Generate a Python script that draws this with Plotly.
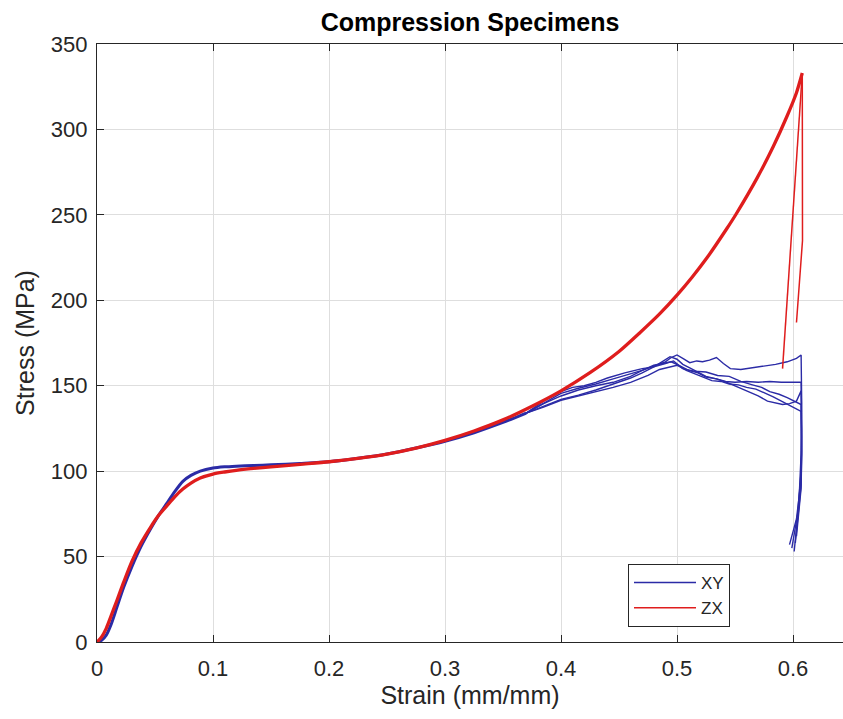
import plotly.graph_objects as go

# ---------------- data ----------------
# XY specimens: shared loading part
XY_LOAD_STRAIN = [0, 0.004, 0.008, 0.012, 0.017, 0.023, 0.03, 0.038, 0.046, 0.053, 0.06,
                  0.067, 0.074, 0.081, 0.089, 0.1, 0.11, 0.12, 0.135, 0.15, 0.175, 0.2,
                  0.225, 0.25, 0.275, 0.3, 0.325, 0.35, 0.37]
XY_LOAD_STRESS = [0, 1, 4, 10, 20, 32, 44, 56, 66, 74, 81,
                  88, 94, 97.5, 100, 101.8, 102.5, 102.9, 103.3, 103.7, 104.5, 105.5,
                  107.5, 110, 113.5, 117.5, 122.5, 128.5, 134]

# XY specimens: individual tails after the plateau
XY1_STRAIN = [0.37, 0.385, 0.40, 0.415, 0.43, 0.445, 0.46, 0.47, 0.48, 0.49, 0.495, 0.5, 0.505,
              0.511, 0.517, 0.522, 0.528, 0.534, 0.54, 0.546, 0.555, 0.565, 0.575, 0.585, 0.595,
              0.603, 0.607, 0.6075, 0.607, 0.605, 0.601]
XY1_STRESS = [134, 140, 145.5, 148.5, 151, 154, 157, 159, 161.5, 164, 166.5, 168, 166,
              163.5, 164.5, 164, 165, 166.5, 163, 160, 159.5, 160.5, 161.5, 162.5, 164,
              166, 168, 140, 110, 80, 53]

XY2_STRAIN = [0.37, 0.385, 0.40, 0.415, 0.43, 0.445, 0.46, 0.47, 0.48, 0.487, 0.494, 0.5, 0.505,
              0.511, 0.517, 0.525, 0.534, 0.542, 0.55, 0.56, 0.57, 0.58, 0.59, 0.6, 0.607,
              0.6075, 0.607, 0.604, 0.599]
XY2_STRESS = [134, 138, 142, 144.5, 147.5, 151, 154.5, 157.5, 161, 164, 167, 165.5, 162.5,
              160.5, 158.5, 155.5, 154, 152.5, 152, 152.5, 152, 152.5, 152, 152, 152,
              125, 100, 75, 55]

XY3_STRAIN = [0.37, 0.385, 0.40, 0.415, 0.43, 0.445, 0.46, 0.47, 0.48, 0.488, 0.495, 0.503,
              0.51, 0.518, 0.525, 0.534, 0.543, 0.553, 0.563, 0.57, 0.578, 0.585, 0.591, 0.597,
              0.603, 0.607, 0.6075, 0.607, 0.603, 0.597]
XY3_STRESS = [134, 139.5, 144, 147.5, 150, 152, 155.5, 159, 162, 163, 164, 161.5,
              159, 157.5, 155, 154, 152, 149, 146, 144, 141, 140, 139, 139.5,
              141, 147, 120, 95, 72, 57]

XY4_STRAIN = [0.37, 0.385, 0.40, 0.415, 0.43, 0.445, 0.46, 0.475, 0.485, 0.492, 0.5, 0.508,
              0.515, 0.523, 0.53, 0.538, 0.545, 0.553, 0.56, 0.568, 0.575, 0.583, 0.59, 0.6,
              0.607, 0.6075, 0.607, 0.603]
XY4_STRESS = [134, 137.5, 141.5, 144, 146.5, 149, 152, 156, 159.5, 160.5, 162, 159,
              157, 155, 153, 152.5, 151, 150.5, 149, 148, 146, 143.5, 141, 137.5,
              135, 110, 90, 62]

XY5_STRAIN = [0.37, 0.385, 0.40, 0.41, 0.42, 0.43, 0.44, 0.455, 0.47, 0.48, 0.49, 0.497,
              0.505, 0.515, 0.525, 0.535, 0.545, 0.555, 0.565, 0.573, 0.58, 0.588, 0.595,
              0.601, 0.607, 0.6075, 0.607, 0.602]
XY5_STRESS = [134, 141, 146.5, 149, 150, 152, 154.5, 157.5, 160, 161, 163, 164.5,
              160, 158.5, 158, 156, 155.5, 152.5, 150.5, 149, 146.5, 145, 143,
              141, 139, 112, 92, 58]

# ZX specimens: loading up to the peak
ZX_LOAD_STRAIN = [0, 0.004, 0.008, 0.012, 0.017, 0.023, 0.03, 0.038, 0.046, 0.053, 0.06,
                  0.067, 0.074, 0.081, 0.089, 0.1, 0.11, 0.12, 0.135, 0.15, 0.175, 0.2,
                  0.225, 0.25, 0.275, 0.3, 0.325, 0.35, 0.375, 0.4, 0.425, 0.45, 0.468,
                  0.485, 0.5, 0.513, 0.526, 0.543, 0.551, 0.569, 0.583, 0.595, 0.603, 0.608]
ZX_LOAD_STRESS = [0, 3, 8, 15, 24, 35, 47, 58, 67, 74, 79.5,
                  85, 89.5, 93, 96, 98.3, 99.5, 100.5, 101.6, 102.5, 104, 105.5,
                  107.5, 110, 113.5, 118, 123.5, 130, 138, 147, 157.6, 170, 181,
                  192, 203, 213.5, 225, 242, 250.5, 271.5, 290, 308, 321.5, 333]

# ZX specimens: unloading after failure
ZX1_STRAIN = [0.608, 0.591]
ZX1_STRESS = [333, 160]
ZX2_STRAIN = [0.608, 0.6082, 0.603]
ZX2_STRESS = [333, 235, 187]

BLUE = "#2b2ba6"
RED = "#df1d1d"
TXT = "#262626"
FONT = "Liberation Sans, Arial, sans-serif"

fig = go.Figure()

xy_tails = [(XY1_STRAIN, XY1_STRESS), (XY2_STRAIN, XY2_STRESS), (XY3_STRAIN, XY3_STRESS),
            (XY4_STRAIN, XY4_STRESS), (XY5_STRAIN, XY5_STRESS)]

# legend carrier for XY (thin line)
fig.add_trace(go.Scatter(x=xy_tails[0][0], y=xy_tails[0][1], mode="lines", name="XY",
                         line=dict(color=BLUE, width=1.4), showlegend=True,
                         legendgroup="XY"))
fig.add_trace(go.Scatter(x=XY_LOAD_STRAIN, y=XY_LOAD_STRESS, mode="lines", name="XY",
                         line=dict(color=BLUE, width=3, shape="spline", smoothing=0.7),
                         showlegend=False, legendgroup="XY"))
for sx, sy in xy_tails[1:]:
    fig.add_trace(go.Scatter(x=sx, y=sy, mode="lines", name="XY",
                             line=dict(color=BLUE, width=1.4), showlegend=False,
                             legendgroup="XY"))

fig.add_trace(go.Scatter(x=ZX1_STRAIN, y=ZX1_STRESS, mode="lines", name="ZX",
                         line=dict(color=RED, width=1.5), showlegend=True,
                         legendgroup="ZX"))
fig.add_trace(go.Scatter(x=ZX2_STRAIN, y=ZX2_STRESS, mode="lines", name="ZX",
                         line=dict(color=RED, width=1.5), showlegend=False,
                         legendgroup="ZX"))
fig.add_trace(go.Scatter(x=ZX_LOAD_STRAIN, y=ZX_LOAD_STRESS, mode="lines", name="ZX",
                         line=dict(color=RED, width=3.3, shape="spline", smoothing=0.7),
                         showlegend=False, legendgroup="ZX"))

W, H = 843, 719
L, R, T, B = 97, 0, 44, 77
x_max = (W - L) / 1160.0

fig.update_layout(
    width=W, height=H,
    margin=dict(l=L, r=R, t=T, b=B, pad=0),
    paper_bgcolor="white", plot_bgcolor="white",
    font=dict(family=FONT, color=TXT, size=22),
    title=dict(text="<b>Compression Specimens</b>", x=0.5, xref="paper", xanchor="center",
               y=1 - 22 / H, yref="container", yanchor="middle",
               font=dict(family=FONT, size=25, color="black")),
    showlegend=True,
    legend=dict(x=(628 - L) / (W - L - R), y=(642 - 564) / 598, xanchor="left", yanchor="top",
                bgcolor="white", bordercolor=TXT, borderwidth=1,
                font=dict(family=FONT, size=17, color=TXT),
                tracegroupgap=0, itemwidth=62),
)

fig.update_xaxes(
    range=[0, x_max], tickvals=[0, 0.1, 0.2, 0.3, 0.4, 0.5, 0.6],
    ticktext=["0", "0.1", "0.2", "0.3", "0.4", "0.5", "0.6"],
    showgrid=True, gridcolor="#dedede", gridwidth=1, zeroline=False,
    showline=True, linecolor=TXT, linewidth=1.3, mirror="ticks",
    ticks="inside", ticklen=7, tickcolor=TXT, tickwidth=1.3,
    tickfont=dict(family=FONT, size=22, color=TXT), ticklabelstandoff=6,
    title=dict(text="Strain (mm/mm)", font=dict(family=FONT, size=25, color=TXT), standoff=6),
)
fig.update_yaxes(
    range=[0, 350], tickvals=[0, 50, 100, 150, 200, 250, 300, 350],
    showgrid=True, gridcolor="#dedede", gridwidth=1, zeroline=False,
    showline=True, linecolor=TXT, linewidth=1.3, mirror=False,
    ticks="inside", ticklen=7, tickcolor=TXT, tickwidth=1.3,
    tickfont=dict(family=FONT, size=22, color=TXT), ticklabelstandoff=4,
    title=dict(text="Stress (MPa)", font=dict(family=FONT, size=25, color=TXT), standoff=8),
)

fig.write_html("out.html")
